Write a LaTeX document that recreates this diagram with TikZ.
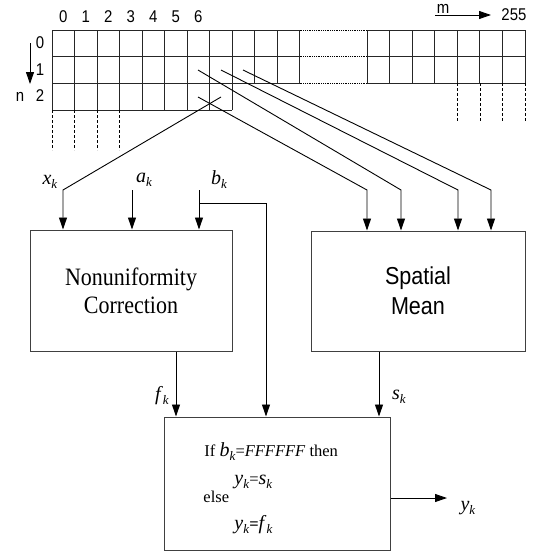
\documentclass[tikz,border=0pt]{standalone}
\usepackage{fontspec}
\setmainfont{Liberation Serif}
\setsansfont{Liberation Sans}
\newfontfamily\condserif[FakeStretch=0.88]{Liberation Serif}
\newfontfamily\condsans[FakeStretch=0.88]{Liberation Sans}
\usetikzlibrary{arrows.meta}
\newcommand{\vk}[1]{{\fontsize{20}{20}\selectfont\textit{#1}}\raisebox{-4pt}{\fontsize{13}{13}\selectfont\textit{k}}}
\begin{document}
\begin{tikzpicture}[x=1pt,y=-1pt,
  line width=0.9pt,
  arr/.style={-{Triangle[length=12pt,width=8pt]}},
  box/.style={draw=black!75, line width=1pt, inner sep=0pt},
  gridline/.style={draw=black!85, line width=0.8pt},
  digit/.style={font=\condsans\fontsize{17}{17}\selectfont, inner sep=0pt},
  lbl/.style={inner sep=0pt},
  intext/.style={anchor=west, inner sep=0pt, font=\fontsize{16.5}{16.5}\selectfont},
]
\useasboundingbox (0,0) rectangle (539,552);

% ---- pixel array ----
\foreach \y in {30,56.67,83.33} \draw[gridline] (52,\y) -- (299.5,\y);
\draw[gridline] (52,110) -- (232,110);
\foreach \i in {0,...,11} \draw[gridline] ({52+22.5*\i},30) -- ({52+22.5*\i},83.33);
\foreach \i in {0,...,8} \draw[gridline] ({52+22.5*\i},83.33) -- ({52+22.5*\i},110);
\foreach \y in {30,56.67,83.33} \draw[gridline] (367,\y) -- (525,\y);
\foreach \i in {0,...,7} \draw[gridline] ({367+22.57*\i},30) -- ({367+22.57*\i},83.33);
\foreach \y in {30,56.67,83.33} \draw[densely dotted, line width=0.8pt] (299.5,\y) -- (367,\y);
\foreach \x in {52,74.5,97,119.5} \draw[densely dashed, line width=0.7pt] (\x,110) -- (\x,150);
\foreach \i in {4,5,6,7} \draw[densely dashed, line width=0.7pt] ({367+22.57*\i},83.33) -- ({367+22.57*\i},123);

% ---- indices ----
\foreach \i in {0,...,6} \node[digit] (c\i) at ({63.25+22.5*\i},17) {\i};
\node[digit] (r0) at (40,43) {0};
\node[digit] (r1) at (40,70) {1};
\node[digit] (r2) at (40,96) {2};
\node[digit] (nlab) at (20,97) {n};
\coordinate (na) at (30,43);
\coordinate (nb) at (30,84);
\draw[arr] (na) -- (nb);
\node[digit] (mlab) at (443,9) {m};
\coordinate (ma) at (435,15);
\coordinate (mb) at (491,15);
\draw[arr] (ma) -- (mb);
\node[digit, anchor=west] (n255) at (501,15) {255};

% ---- boxes ----
\node[box, minimum width=202pt, minimum height=121pt, align=center,
      font=\condserif\fontsize{25}{28}\selectfont] (nuc) at (131,290.5) {Nonuniformity\\Correction};
\node[box, minimum width=214pt, minimum height=120pt, align=center,
      font=\condsans\fontsize{24.5}{30}\selectfont] (sm) at (418,291) {Spatial\\Mean};
\node[box, minimum width=226pt, minimum height=133pt] (sel) at (277,483.5) {};

% ---- text in selector ----
\node[intext] (t1) at (204,452) {If \vk{b}=\textit{FFFFFF} then};
\node[intext] (t2) at (234,482) {\vk{y}=\vk{s}};
\node[intext] (t3) at (203,497) {else};
\node[intext] (t4) at (234,525) {\vk{y}\textbf{=}\vk{f}};

% ---- cell taps ----
\coordinate (p1) at (198,97);
\coordinate (p2) at (198,70);
\coordinate (p3) at (221,70);
\coordinate (p4) at (243,70);
\coordinate (px) at (221,97);
\coordinate (q1) at (367,190);
\coordinate (q2) at (401,190);
\coordinate (q3) at (458,190);
\coordinate (q4) at (491,190);
\draw[arr] (p1) -- (q1) -- (q1 |- sm.north);
\draw[arr] (p2) -- (q2) -- (q2 |- sm.north);
\draw[arr] (p3) -- (q3) -- (q3 |- sm.north);
\draw[arr] (p4) -- (q4) -- (q4 |- sm.north);

% ---- inputs to NUC ----
\coordinate (xb) at (63,190);
\coordinate (ab) at (132,190);
\coordinate (bb) at (199,190);
\coordinate (bs) at (199,203);
\coordinate (bt) at (266,203);
\draw[arr] (px) -- (xb) -- (xb |- nuc.north);
\draw[arr] (ab) -- (ab |- nuc.north);
\draw[arr] (bb) -- (bb |- nuc.north);
\draw[arr] (bs) -- (bt) -- (bt |- sel.north);
\node[lbl] (xk) at (50,182) {\vk{x}};
\node[lbl] (ak) at (144,180) {\vk{a}};
\node[lbl] (bk) at (219,180) {\vk{b}};

% ---- outputs ----
\coordinate (fx) at (176,0);
\coordinate (sx) at (379,0);
\draw[arr] (nuc.south -| fx) -- (sel.north -| fx);
\draw[arr] (sm.south -| sx) -- (sel.north -| sx);
\node[lbl] (fk) at (162,396) {\vk{f}};
\node[lbl] (sk) at (399,397) {\vk{s}};
\coordinate (yo) at (447,498);
\draw[arr] (sel.east |- yo) -- (yo);
\node[lbl] (yk) at (468,508) {\vk{y}};
\end{tikzpicture}
\end{document}
